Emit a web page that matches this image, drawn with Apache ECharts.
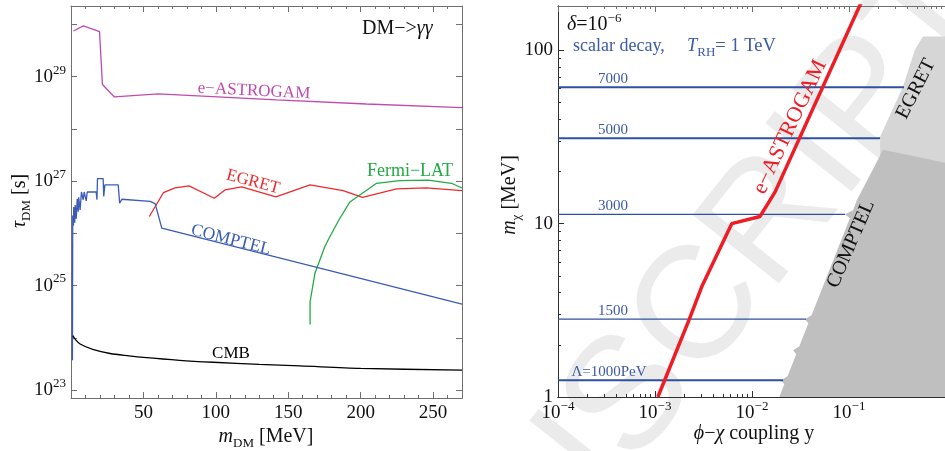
<!DOCTYPE html>
<html><head><meta charset="utf-8">
<script src="https://cdn.jsdelivr.net/npm/echarts@6/dist/echarts.min.js"></script>
<style>html,body{margin:0;padding:0;background:#fff}#c{width:945px;height:451px}</style>
</head><body><div id="c"></div>
<script>
// ---------- Left panel: lifetime limits, DM -> gamma gamma ----------
const astrogamMass = [1.7, 8.6, 19.7, 21.7, 30.0, 60.3, 142, 204, 270];
const astrogamTau  = [7.5e29, 9.4e29, 7.3e29, 7.1e28, 4.1e28, 4.7e28, 3.6e28, 3.0e28, 2.55e28];

const egretMass = [54.1, 63.8, 71.9, 81.5, 99.0, 106.3, 117.9, 141.5, 165, 187.9, 201.3, 224.8, 245.4, 270];
const egretTau  = [2.1e26, 6.0e26, 7.4e26, 8.1e26, 4.7e26, 6.8e26, 7.8e26, 5.0e26, 8.5e26, 6.6e26, 4.9e26, 7.1e26, 7.4e26, 6.6e26];

const fermiMass = [165.1, 165.1, 168.4, 175.3, 179, 185, 192.6, 211, 227, 246.6, 262.7, 270];
const fermiTau  = [1.8e24, 4.9e24, 1.7e25, 5.6e25, 8.9e25, 1.8e26, 4.0e26, 9.1e26, 1.02e27, 1.05e27, 9.1e26, 7.4e26];

const comptelMass = [1.0, 1.2, 1.7, 1.9, 2.6, 2.9, 3.6, 4.3, 5.0, 5.3, 6.3, 7.2, 8.4, 9.1, 10.5, 11.2, 17.4, 17.9, 18.3, 22.2, 22.6, 23.4, 32.6, 33.6, 35.1, 54.6, 58.1, 62.7, 270];
const comptelTau  = [3.7e23, 2.2e26, 1.4e26, 3.2e26, 1.6e26, 3.5e26, 1.9e26, 4.6e26, 2.6e26, 4.9e26, 2.8e26, 6.2e26, 4.4e26, 6.2e26, 4.2e26, 6.2e26, 6.2e26, 4.4e26, 1.12e27, 1.12e27, 5.1e26, 8.5e26, 8.5e26, 3.8e26, 4.5e26, 4.1e26, 3.7e26, 1.26e26, 4.4e24];

const cmbMass = [1.3, 3, 6.3, 15, 27, 40, 50, 75, 98.3, 130, 158, 200, 270];
const cmbTau  = [1.1e24, 9.3e23, 7.6e23, 6.0e23, 5.0e23, 4.5e23, 4.2e23, 3.7e23, 3.4e23, 3.1e23, 2.9e23, 2.6e23, 2.4e23];

const leftXLabels = [50, 100, 150, 200, 250];
const leftYLabels = [1e23, 1e25, 1e27, 1e29];
const leftYTicks  = [1e23, 1e24, 1e25, 1e26, 1e27, 1e28, 1e29, 1e30];

// ---------- Right panel: coupling vs mass ----------
const astroCoupling = [1.07e-3, 2.26e-3, 3.03e-3, 6.18e-3, 0.0121, 0.01726, 0.14];
const astroMassR    = [1, 2.81, 4.32, 10, 11.0, 15.2, 200];

const lambdaLabels = ['Λ=1000PeV', '1500', '3000', '5000', '7000'];
const lambdaMass   = [1.25, 2.81, 11.3, 31.1, 61.1];
const lambdaEnd    = [0.0209, 0.0361, 0.091, 0.209, 0.369];

const comptelRegionCoupling = [0.01912, 0.02153, 0.01990, 0.02323, 0.02858, 0.02650, 0.03076, 0.0381, 0.03516, 0.04111, 0.1021, 0.0910, 0.1102, 0.1208, 0.2245, 1];
const comptelRegionMass     = [1, 1.184, 1.248, 1.316, 1.763, 1.859, 1.961, 2.662, 2.807, 2.960, 10.74, 11.32, 11.94, 13.7, 26.7, 22.4];

const egretRegionCoupling = [0.2093, 0.2093, 0.3606, 0.479, 0.579, 1];
const egretRegionMass     = [24.8, 31.7, 61.7, 101, 120, 120];

const rightXLabels = [1e-4, 1e-3, 1e-2, 1e-1];
const rightYLabels = [1, 10, 100];

// ---------- helpers ----------
const FONT = 'Liberation Serif';
const pts = (xs, ys) => xs.map((x, i) => [x, ys[i]]);
const sup = n => (n < 0 ? '−' + (-n) : '' + n);
const powLabel = v => '{b|10}{s|' + sup(Math.round(Math.log10(v))) + '}';
const powRich = {
  b: { fontSize: 19, fontFamily: FONT, lineHeight: 26, color: '#111' },
  s: { fontSize: 13, fontFamily: FONT, lineHeight: 13, verticalAlign: 'top', color: '#111' }
};
function minorLog(lo, hi) {
  const out = [];
  for (let d = lo; d < hi * 10; d *= 10)
    for (let k = 2; k <= 9; k++) { const v = k * d; if (v > lo && v < hi) out.push(+v.toPrecision(3)); }
  return out;
}
const rightXMinor = minorLog(1e-4, 1);
const rightYMinor = minorLog(1, 180);

const leftFrame = '#707070', rightFrame = '#303030', rightTop = '#707070';
function ax(o) {
  return Object.assign({
    splitLine: { show: false },
    axisLine: { show: true, onZero: false, lineStyle: { color: o.frame, width: 1 } },
    axisTick: { show: true, inside: true, length: 6, lineStyle: { color: o.frame } },
    axisLabel: { show: false }
  }, o.ext);
}

const xAxis = [
  // left panel
  ax({ frame: leftFrame, ext: { gridIndex: 0, type: 'value', min: 0, max: 270, interval: 50, position: 'bottom',
    minorTick: { show: true, splitNumber: 5, length: 3, lineStyle: { color: leftFrame } },
    axisLabel: { show: true, margin: 6, fontSize: 19, fontFamily: FONT, color: '#111',
      customValues: leftXLabels, formatter: v => String(v) } } }),
  ax({ frame: leftFrame, ext: { gridIndex: 0, type: 'value', min: 0, max: 270, interval: 50, position: 'top',
    minorTick: { show: true, splitNumber: 5, length: 3, lineStyle: { color: leftFrame } } } }),
  // right panel
  ax({ frame: rightFrame, ext: { gridIndex: 1, type: 'log', min: 1e-4, max: 1, position: 'bottom',
    axisTick: { show: true, inside: true, length: 6, customValues: rightXLabels, lineStyle: { color: rightFrame } },
    axisLabel: { show: true, margin: 3, customValues: rightXLabels, formatter: powLabel, rich: powRich } } }),
  ax({ frame: rightFrame, ext: { gridIndex: 1, type: 'log', min: 1e-4, max: 1, position: 'bottom',
    axisTick: { show: true, inside: true, length: 3, customValues: rightXMinor, lineStyle: { color: rightFrame } } } }),
  ax({ frame: rightTop, ext: { gridIndex: 1, type: 'log', min: 1e-4, max: 1, position: 'top',
    axisTick: { show: true, inside: true, length: 6, customValues: rightXLabels, lineStyle: { color: rightTop } } } }),
  ax({ frame: rightTop, ext: { gridIndex: 1, type: 'log', min: 1e-4, max: 1, position: 'top',
    axisTick: { show: true, inside: true, length: 3, customValues: rightXMinor, lineStyle: { color: rightTop } } } })
];
const yAxis = [
  ax({ frame: leftFrame, ext: { gridIndex: 0, type: 'log', min: 7.03e22, max: 2.26e30, position: 'left',
    axisTick: { show: true, inside: true, length: 6, customValues: leftYTicks, lineStyle: { color: leftFrame } },
    axisLabel: { show: true, margin: 5, customValues: leftYLabels, formatter: powLabel, rich: powRich } } }),
  ax({ frame: leftFrame, ext: { gridIndex: 0, type: 'log', min: 7.03e22, max: 2.26e30, position: 'right',
    axisTick: { show: true, inside: true, length: 6, customValues: leftYTicks, lineStyle: { color: leftFrame } } } }),
  ax({ frame: rightFrame, ext: { gridIndex: 1, type: 'log', min: 1, max: 180, position: 'left',
    axisTick: { show: true, inside: true, length: 6, customValues: rightYLabels, lineStyle: { color: rightFrame } },
    axisLabel: { show: true, margin: 5, customValues: rightYLabels, fontSize: 19, fontFamily: FONT, color: '#111',
      formatter: v => String(Math.round(v)) } } }),
  ax({ frame: rightFrame, ext: { gridIndex: 1, type: 'log', min: 1, max: 180, position: 'left',
    axisTick: { show: true, inside: true, length: 3, customValues: rightYMinor, lineStyle: { color: rightFrame } } } })
];

const leftLine = (data, color, z) => ({ type: 'line', xAxisIndex: 0, yAxisIndex: 0, data, symbol: 'none',
  lineStyle: { color, width: 1.3 }, silent: true, z: z || 3 });

const series = [
  leftLine(pts(astrogamMass, astrogamTau), '#c04ab0'),
  leftLine(pts(egretMass, egretTau), '#ee2a2a'),
  leftLine(pts(fermiMass, fermiTau), '#22aa44'),
  leftLine(pts(comptelMass, comptelTau), '#3a5cb8'),
  Object.assign(leftLine(pts(cmbMass, cmbTau), '#000'), { smooth: 0.3 }),
  // right panel excluded regions
  { type: 'line', xAxisIndex: 2, yAxisIndex: 2, data: pts(egretRegionCoupling, egretRegionMass), symbol: 'none',
    lineStyle: { width: 0 }, areaStyle: { color: '#d6d6d6', opacity: 1, origin: 'start' }, silent: true, z: 1 },
  { type: 'line', xAxisIndex: 2, yAxisIndex: 2, data: pts(comptelRegionCoupling, comptelRegionMass), symbol: 'none',
    lineStyle: { width: 0 }, areaStyle: { color: '#bfbfbf', opacity: 1, origin: 'start' }, silent: true, z: 2 },
  // e-ASTROGAM sensitivity
  { type: 'line', xAxisIndex: 2, yAxisIndex: 2, data: pts(astroCoupling, astroMassR), symbol: 'none',
    lineStyle: { color: '#ee1c24', width: 3.5 }, silent: true, z: 5 }
];
lambdaMass.forEach((m, i) => {
  series.push({ type: 'line', xAxisIndex: 2, yAxisIndex: 2, symbol: 'circle', symbolSize: 0.01, silent: true, z: 4,
    lineStyle: { color: '#2f4f9f', width: (i === 1 || i === 2) ? 1.2 : 2 },
    data: [
      { value: [1e-4, m], label: { show: true, formatter: lambdaLabels[i], position: 'top', distance: 1,
        offset: [i === 0 ? 51 : 55, 0], color: '#3c5aa8', fontSize: 15, fontFamily: FONT } },
      [lambdaEnd[i], m]
    ] });
});

const txt = (text, x, y, o) => Object.assign({ type: 'text', x, y, silent: true, z: 10,
  style: Object.assign({ text, fill: '#111', fontSize: 17, fontFamily: FONT, align: 'center', verticalAlign: 'middle' }, o && o.style) },
  o && o.el);
const subRich = c => ({
  i: { fontSize: 20, fontFamily: FONT, fontStyle: 'italic', lineHeight: 26, fill: c, color: c },
  r: { fontSize: 20, fontFamily: FONT, lineHeight: 26, fill: c, color: c },
  sub: { fontSize: 13, fontFamily: FONT, lineHeight: 16, verticalAlign: 'bottom', fill: c, color: c },
  sup: { fontSize: 13, fontFamily: FONT, lineHeight: 13, verticalAlign: 'top', fill: c, color: c }
});

const graphic = [
  // watermark
  { type: 'text', x: 634, y: 395, rotation: 0.9, silent: true, z: -5,
    style: { text: 'MANUSCRIPT', fill: '#ebebeb', font: 'normal 160px "Liberation Sans"', align: 'center', verticalAlign: 'middle' } },
  // left panel annotations
  txt('DM−>{g|γγ}', 362, 29, { style: { align: 'left', fontSize: 20, rich: { g: { fontSize: 20, fontFamily: FONT, fontStyle: 'italic', fill: '#111' } } } }),
  txt('e−ASTROGAM', 254, 91, { style: { fill: '#c04ab0' }, el: { rotation: -0.05 } }),
  txt('EGRET', 253, 182, { style: { fill: '#ee2a2a' }, el: { rotation: -0.26 } }),
  txt('Fermi−LAT', 410, 171, { style: { fill: '#22aa44', fontSize: 18 } }),
  txt('COMPTEL', 231, 240, { style: { fill: '#3a5cb8', fontSize: 17.5 }, el: { rotation: -0.25 } }),
  txt('CMB', 231, 354, { style: { fill: '#000' } }),
  // axis titles
  txt('{i|τ}{sub|DM}{r| [s]}', 20, 201, { style: { rich: subRich('#111') }, el: { rotation: Math.PI / 2 } }),
  txt('{i|m}{sub|DM}{r| [MeV]}', 266, 437, { style: { rich: subRich('#111') } }),
  txt('{i|m}{sub|χ}{r| [MeV]}', 510, 195, { style: { rich: subRich('#111') }, el: { rotation: Math.PI / 2 } }),
  txt('{i|ϕ}{r|−}{i|χ}{r| coupling y}', 754, 434, { style: { rich: subRich('#111') } }),
  // right panel annotations
  txt('{i|δ}{r|=10}{sup|−6}', 567, 25, { style: { align: 'left', rich: subRich('#111') } }),
  txt('scalar decay,', 573, 46, { style: { align: 'left', fill: '#3c5aa8', fontSize: 18 } }),
  txt('{i|T}{sub|RH}{r|= 1 TeV}', 687, 46, { style: { align: 'left', rich: (() => { const r = subRich('#3c5aa8'); r.i.fontSize = 18.5; r.r.fontSize = 18.5; return r; })() } }),
  txt('e−ASTROGAM', 790, 127, { style: { fill: '#ee1c24', fontSize: 22 }, el: { rotation: 1.13 } }),
  txt('COMPTEL', 851, 244, { style: { fill: '#111', fontSize: 20 }, el: { rotation: 1.16 } }),
  txt('EGRET', 916, 89, { style: { fill: '#111', fontSize: 20 }, el: { rotation: 1.1 } })
];

const chart = echarts.init(document.getElementById('c'), null, { renderer: 'canvas' });
chart.setOption({
  animation: false,
  backgroundColor: '#fff',
  grid: [
    { left: 71, top: 6, width: 391, height: 392, containLabel: false, outerBoundsMode: 'none' },
    { left: 558, top: 6, width: 388, height: 391, containLabel: false, outerBoundsMode: 'none' }
  ],
  xAxis, yAxis, series, graphic
});
</script></body></html>
